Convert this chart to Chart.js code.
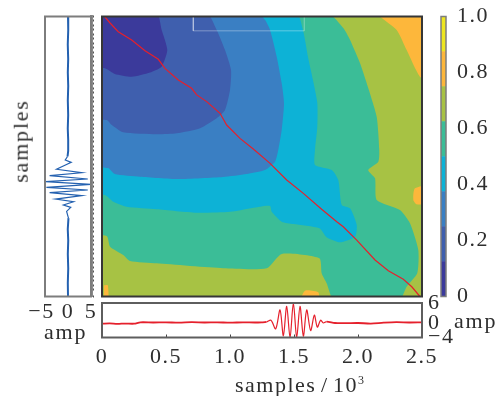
<!DOCTYPE html>
<html>
<head>
<meta charset="utf-8">
<script src="https://cdn.jsdelivr.net/npm/chart.js@4"></script>
<style>
  html, body { margin: 0; padding: 0; background: #fff; }
  #page { position: relative; width: 496px; height: 396px; overflow: hidden; }
  canvas { position: absolute; }
  .label { position: absolute; font: 22px "Liberation Serif", serif; color: #2e2e2e; letter-spacing: 1.8px; line-height: 20px; white-space: nowrap; }
  .label sup { font-size: 12px; line-height: 0; letter-spacing: 0; }
</style>
</head>
<body>
<div id="page">
  <canvas id="mainChart" width="340" height="310" style="left:92px;top:0"></canvas>
  <canvas id="leftChart" width="76" height="330" style="left:25px;top:0"></canvas>
  <canvas id="bottomChart" width="365" height="75" style="left:92px;top:290px"></canvas>
  <canvas id="barChart" width="65" height="310" style="left:431px;top:0"></canvas>
  <div class="label" style="left:-21px;top:131px;transform:rotate(-90deg)">samples</div>
  <div class="label" style="left:44px;top:322px">amp</div>
  <div class="label" style="left:454px;top:311px">amp</div>
  <div class="label" style="left:235px;top:375px;letter-spacing:1.5px;word-spacing:-2.5px">samples / 10<sup>3</sup></div>
</div>
<script>
// contour regions, [samples, samples] in 10^3
// edge points sit just past the axes so the smoothing never shows inside the frame
let oliveRegion = [[-1, -1], [3.5, -1], [3.5, 3.5], [-1, 3.5]];
let orangeCorner = [[2.6, -0.1], [2.133, -0.05], [2.302, 0.12], [2.38, 0.3], [2.484, 0.538], [2.6, 0.62]];
let orangeRight = [[2.6, 1.49], [2.445, 1.534], [2.432, 1.638], [2.459, 1.677], [2.6, 1.677]];
let orangeBottom = [[1.54, 2.55], [1.586, 2.448], [1.69, 2.463], [1.698, 2.55]];
let orangeLeft = [[0.016, 2.4], [0.045, 2.4], [0.05, 2.55], [0.016, 2.55]];
let greenRegion = [[-0.1, -0.1], [1.742, -0.05], [1.885, 0.103], [1.938, 0.21], [2.016, 0.418], [2.068, 0.596], [2.146, 0.895],
  [2.166, 1.192], [2.159, 1.296], [2.08, 1.371], [2.133, 1.445], [2.146, 1.638], [2.328, 1.728], [2.406, 1.846],
  [2.471, 2.085], [2.463, 2.293], [2.38, 2.413], [2.315, 2.55], [1.82, 2.55], [1.755, 2.382], [1.716, 2.293],
  [1.698, 2.159], [1.404, 2.12], [1.287, 2.248], [0.948, 2.248], [0.427, 2.204], [0.219, 2.183], [0.166, 2.129],
  [0.063, 2.055], [0.037, 1.96], [-0.1, 1.951]];
let cyanRegion = [[-0.1, -0.1], [1.508, -0.05], [1.57, 0.12], [1.609, 0.359], [1.648, 0.567], [1.682, 0.772], [1.682, 0.984],
  [1.664, 1.192], [1.664, 1.326], [1.795, 1.371], [1.846, 1.46], [1.873, 1.683], [1.938, 1.713], [1.99, 1.862],
  [1.977, 1.966], [1.859, 2.016], [1.755, 1.971], [1.698, 1.891], [1.495, 1.853], [1.404, 1.832], [1.326, 1.743],
  [1.313, 1.692], [1.234, 1.698], [1.0, 1.743], [0.74, 1.752], [0.427, 1.721], [0.193, 1.698], [0.088, 1.654],
  [0.023, 1.594], [-0.1, 1.594]];
let skyRegion = [[-0.1, -0.1], [1.2, -0.05], [1.273, 0.03], [1.313, 0.12], [1.365, 0.359], [1.404, 0.596], [1.422, 0.775],
  [1.404, 1.013], [1.377, 1.192], [1.352, 1.296], [1.273, 1.371], [1.13, 1.406], [0.945, 1.433], [0.594, 1.451],
  [0.297, 1.43], [0.1, 1.406], [0.047, 1.353], [-0.1, 1.344]];
let blueRegion = [[-0.1, -0.1], [0.805, -0.05], [0.896, 0.12], [0.961, 0.3], [1.008, 0.478], [1.0, 0.656], [0.961, 0.835],
  [0.896, 0.909], [0.766, 0.998], [0.584, 1.043], [0.427, 1.052], [0.166, 1.034], [0.076, 0.969], [0.037, 0.924], [-0.1, 0.924]];
let navyRegion = [[-0.1, -0.1], [0.42, -0.05], [0.466, 0.12], [0.51, 0.3], [0.466, 0.448], [0.375, 0.5], [0.232, 0.538],
  [0.1, 0.513], [0.023, 0.463], [-0.1, 0.448]];
let pathLine = [[0.02, 0], [0.063, 0.058], [0.127, 0.136], [0.232, 0.21], [0.336, 0.305], [0.44, 0.382], [0.492, 0.463],
  [0.596, 0.567], [0.7, 0.641], [0.74, 0.7], [0.818, 0.76], [0.922, 0.864], [0.974, 0.969], [1.078, 1.088], [1.182, 1.183],
  [1.313, 1.311], [1.443, 1.46], [1.573, 1.579], [1.716, 1.721], [1.834, 1.832], [1.885, 1.877], [1.99, 1.996],
  [2.133, 2.174], [2.237, 2.27], [2.354, 2.346], [2.42, 2.413], [2.484, 2.5]];
let boxLine = [[0.713, 0], [0.713, 0.128], [1.58, 0.128], [1.58, 0]];

let levelColors = ["#3b3a9b", "#3f5fae", "#3a7fc3", "#0db2d6", "#3bbd97", "#a7c244", "#fdb73b", "#eee620"];
let levelSteps = [0.125, 0.125, 0.125, 0.125, 0.125, 0.125, 0.125, 0.125];

// left trace
let leftSamples = [0, 0.12, 0.25, 0.38, 0.5, 0.62, 0.75, 0.88, 1.0, 1.1, 1.2, 1.25, 1.281, 1.302, 1.332, 1.364, 1.395,
  1.421, 1.451, 1.475, 1.498, 1.525, 1.549, 1.573, 1.6, 1.63, 1.654, 1.683, 1.704, 1.74, 1.8, 1.9, 2.0, 2.12, 2.25, 2.38, 2.5];
let leftAmp = [0, 0.05, -0.05, 0.04, -0.04, 0.05, -0.04, 0.04, -0.05, 0.04, 0.04, -0.1, -0.6, 0.7, -0.9, -2.5, 3.0,
  -4.0, 4.3, -4.9, 5.0, -4.7, 4.3, -4.0, 3.0, -2.7, 1.2, -1.0, 0.6, -0.3, 0.1, -0.05, 0.05, -0.04, 0.05, -0.04, 0];

// bottom trace
let bottomSamples = [0, 0.06, 0.12, 0.18, 0.25, 0.3, 0.4, 0.5, 0.6, 0.7, 0.8, 0.9, 1.0, 1.1, 1.195, 1.247, 1.285, 1.32,
  1.357, 1.391, 1.417, 1.443, 1.469, 1.495, 1.521, 1.547, 1.573, 1.599, 1.63, 1.659, 1.682, 1.708, 1.729, 1.755, 1.82,
  1.9, 2.0, 2.1, 2.2, 2.3, 2.4, 2.5];
let bottomAmp = [0, 0.1, -0.05, 0.05, 0, 0.4, 0.35, 0.4, 0.3, 0.45, 0.35, 0.4, 0.3, 0.4, 0.35, 0.4, 0.5, 1.0,
  -1.5, 4.0, -3.5, 5.0, -4.0, 6.0, -4.0, 5.0, -3.6, 4.0, -2.0, 2.5, -1.0, 1.0, 0.2, 0.6, 0.2,
  0.15, 0.2, 0.05, 0.3, 0.45, 0.35, 0.4];

let xTickValues = [0, 0.5, 1, 1.5, 2, 2.5];
let ampTickValues = [-4, 0, 6];
let packetStart = 1.25;
let packetEnd = 1.75;

function pts(pairs) {
  return pairs.map((p) => ({ x: p[0], y: p[1] }));
}

function region(pairs, color) {
  return { data: pts(pairs), showLine: true, fill: "shape", backgroundColor: color, borderWidth: 0, borderColor: color, pointRadius: 0, tension: 0.2, capBezierPoints: false };
}

function trace(xs, ys, color, width) {
  let data = xs.map((x, i) => ({ x: x, y: ys[i] }));
  return { data: data, showLine: true, borderColor: color, borderWidth: width, pointRadius: 0, fill: false };
}

let tickFont = { family: "Liberation Serif", size: 22 };
// fixed axis box so every plot area sits where the original has it
let fixed = (size) => (scale) => {
  if (scale.isHorizontal()) scale.height = size;
  else scale.width = size;
  scale.paddingTop = scale.paddingBottom = scale.paddingLeft = scale.paddingRight = 0;
};

// box round the plot area, plus the wide tick label spacing of the original
let framePlugin = {
  id: "frame",
  beforeDraw(chart) {
    chart.ctx.letterSpacing = "1.5px";
  },
  afterDatasetsDraw(chart, args, opts) {
    let a = chart.chartArea;
    let ctx = chart.ctx;
    ctx.save();
    ctx.strokeStyle = opts.color;
    ctx.lineWidth = opts.width;
    ctx.strokeRect(a.left, a.top, a.right - a.left, a.bottom - a.top);
    ctx.restore();
  },
};

let base = (left, top, right, bottom, color, width) => ({
  responsive: false,
  animation: false,
  layout: { padding: { left, top, right, bottom } },
  plugins: { legend: { display: false }, tooltip: { enabled: false }, frame: { color, width } },
});

let hiddenTicks = { display: false };
let innerGrid = (len, color) => ({ drawOnChartArea: false, tickLength: len, tickColor: color, tickWidth: 1 });

new Chart(document.getElementById("mainChart"), {
  type: "scatter",
  plugins: [framePlugin],
  data: {
    datasets: [
      trace(pathLine.map((p) => p[0]), pathLine.map((p) => p[1]), "#e5202c", 1.2),
      trace(boxLine.map((p) => p[0]), boxLine.map((p) => p[1]), "rgba(255,255,255,0.35)", 1),
      region(navyRegion, levelColors[0]),
      region(blueRegion, levelColors[1]),
      region(skyRegion, levelColors[2]),
      region(cyanRegion, levelColors[3]),
      region(greenRegion, levelColors[4]),
      region(orangeCorner, levelColors[6]),
      region(orangeRight, levelColors[6]),
      region(orangeBottom, levelColors[6]),
      region(orangeLeft, levelColors[6]),
      region(oliveRegion, levelColors[5]),
    ],
  },
  options: {
    ...base(10, 16.5, 10, 13.5, "#363636", 2),
    scales: {
      x: { min: 0, max: 2.5, afterFit: fixed(0), ticks: { ...hiddenTicks, stepSize: 0.5 }, grid: innerGrid(-3, "#444"), border: { display: false } },
      y: { min: 0, max: 2.5, reverse: true, afterFit: fixed(0), ticks: { ...hiddenTicks, stepSize: 0.5 }, grid: innerGrid(-3, "#444"), border: { display: false } },
      y2: { position: "right", min: 0, max: 2.5, reverse: true, afterFit: fixed(0), ticks: { ...hiddenTicks, stepSize: 0.5 }, grid: innerGrid(-3, "#444"), border: { display: false } },
    },
  },
});

let leftTrace = trace(leftAmp, leftSamples, "#2461b0", 1.2);
leftTrace.segment = { borderWidth: (c) => (c.p0.parsed.y < packetStart || c.p0.parsed.y > packetEnd ? 2 : 1.2) };

new Chart(document.getElementById("leftChart"), {
  type: "scatter",
  plugins: [framePlugin],
  data: { datasets: [leftTrace] },
  options: {
    ...base(20, 16.5, 10, 0.5, "#7d7d7d", 2),
    scales: {
      x: {
        min: -5, max: 5, afterFit: fixed(33),
        ticks: { stepSize: 5, font: tickFont, color: "#2e2e2e", padding: 3, maxRotation: 0, minRotation: 0, autoSkip: false,
          callback: (v) => (v < 0 ? "\u2212" + -v + "\u00a0" : "" + v) },
        grid: innerGrid(0, "#555"), border: { display: false },
      },
      y: {
        position: "right", min: 0, max: 2.5, reverse: true, afterFit: fixed(0),
        ticks: { ...hiddenTicks, stepSize: 0.04, autoSkip: false },
        grid: { drawOnChartArea: false, tickLength: 3, tickColor: "#555", tickWidth: 2 }, border: { display: true, color: "#8a8a8a", width: 3 },
      },
    },
  },
});

let bottomTrace = trace(bottomSamples, bottomAmp, "#e5202c", 1.2);
bottomTrace.tension = 0.3;
bottomTrace.segment = { borderWidth: (c) => (c.p0.parsed.x < packetStart || c.p0.parsed.x > packetEnd ? 1.8 : 1.2) };

new Chart(document.getElementById("bottomChart"), {
  type: "scatter",
  plugins: [framePlugin],
  data: { datasets: [bottomTrace] },
  options: {
    ...base(10, 13, 0, 0.5, "#5e5e5e", 2),
    scales: {
      x: {
        min: 0, max: 2.5, afterFit: fixed(27),
        afterBuildTicks: (scale) => { scale.ticks = xTickValues.map((v) => ({ value: v })); },
        ticks: { font: tickFont, color: "#2e2e2e", padding: 10, maxRotation: 0, minRotation: 0, autoSkip: false,
          callback: (v) => (v === 0 ? "0" : v.toFixed(1)) },
        grid: innerGrid(-3, "#444"), border: { display: false },
      },
      y: {
        position: "right", min: -4, max: 6, afterFit: fixed(35),
        afterBuildTicks: (scale) => { scale.ticks = ampTickValues.map((v) => ({ value: v })); },
        ticks: { font: tickFont, color: "#2e2e2e", padding: 6, crossAlign: "near", autoSkip: false,
          callback: (v) => (v < 0 ? "\u2212" + -v : "" + v) },
        grid: { drawOnChartArea: false, drawTicks: false }, border: { display: false },
      },
    },
  },
});

new Chart(document.getElementById("barChart"), {
  type: "bar",
  plugins: [framePlugin],
  data: {
    labels: ["level"],
    datasets: levelSteps.map((step, i) => ({ data: [step], backgroundColor: levelColors[i], barPercentage: 1, categoryPercentage: 1, borderWidth: 0 })),
  },
  options: {
    ...base(10, 16.5, 0, 13.5, "#7d7d7d", 1.5),
    scales: {
      x: { stacked: true, display: false },
      y: {
        stacked: true, position: "right", min: 0, max: 1, afterFit: fixed(50),
        ticks: { stepSize: 0.2, font: tickFont, color: "#2e2e2e", padding: 11, crossAlign: "near", autoSkip: false,
          callback: (v) => (v === 0 ? "0" : v.toFixed(1)) },
        grid: innerGrid(0, "#555"), border: { display: false },
      },
    },
  },
});
</script>
</body>
</html>
